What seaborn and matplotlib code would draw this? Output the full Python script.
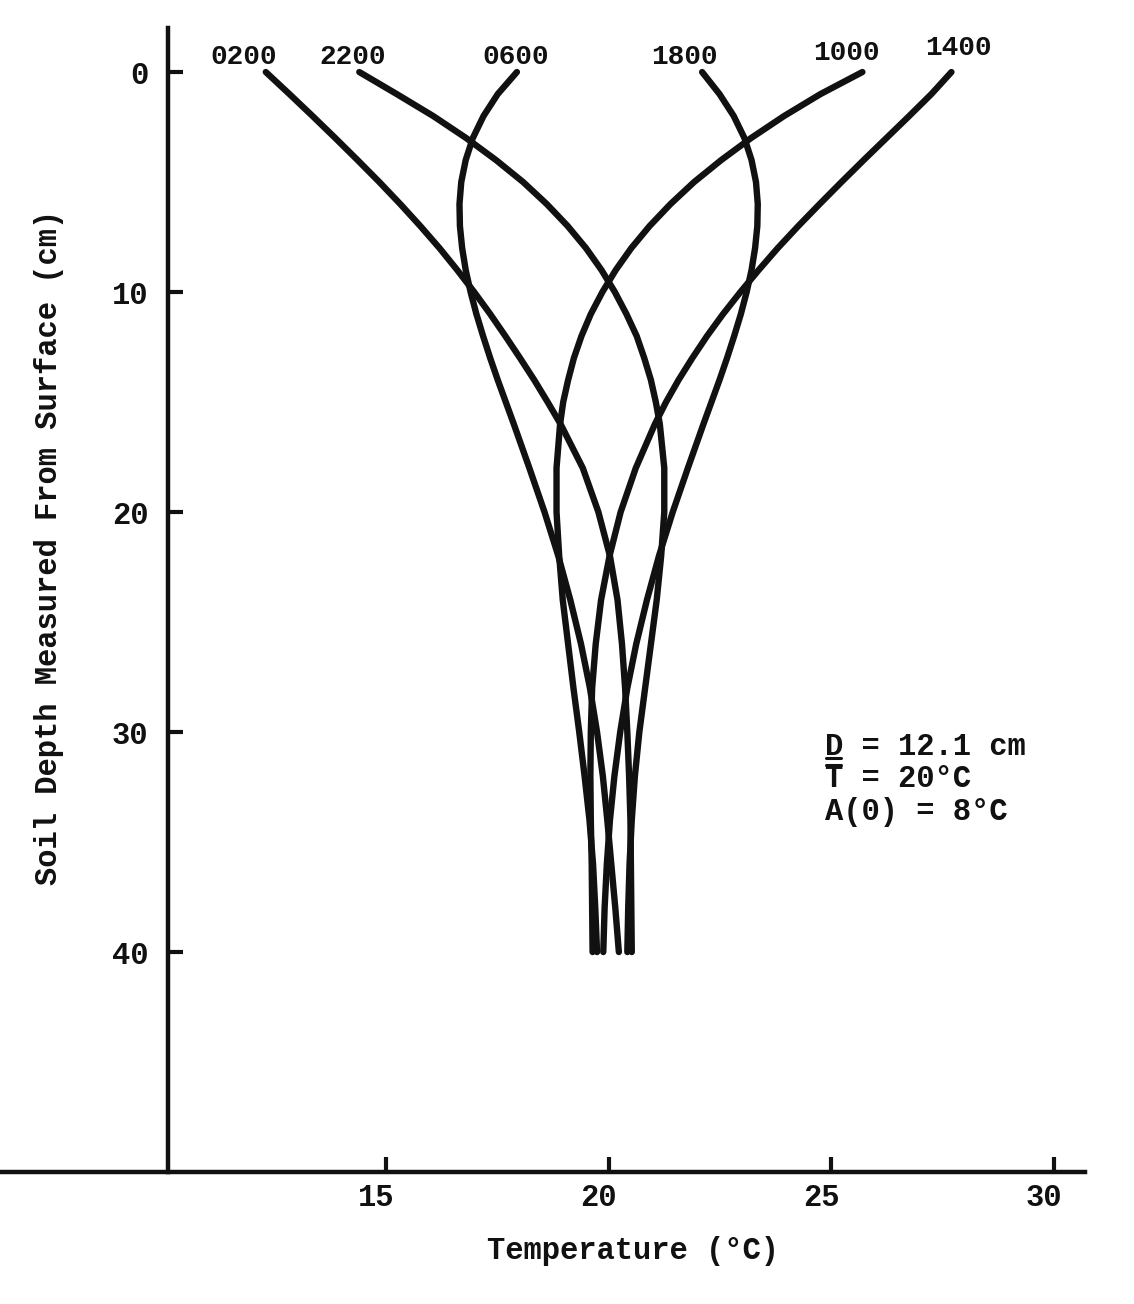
import pandas as pd
import matplotlib
matplotlib.use("Agg")
import matplotlib.pyplot as plt
import matplotlib.transforms as mtransforms
from matplotlib.lines import Line2D
import seaborn as sns

# depth below the surface (cm) and temperature (deg C)
depth = [0, 1, 2, 3, 4, 5, 6, 7, 8, 9, 10, 11, 12, 13, 14, 15, 16,
         18, 20, 22, 24, 26, 28, 30, 32, 34, 36, 38, 40]
times = ["0200", "2200", "0600", "1800", "1000", "1400"]
temp_0200 = [12.3, 12.83, 13.35, 13.86, 14.36, 14.85, 15.32, 15.77, 16.2, 16.6, 16.98,
             17.34, 17.68, 18.01, 18.33, 18.63, 18.92,
             19.42, 19.77, 20.03, 20.2, 20.3, 20.37, 20.42, 20.46, 20.49, 20.5, 20.51, 20.52]
temp_2200 = [14.4, 15.24, 16.06, 16.8, 17.47, 18.08, 18.61, 19.08, 19.49, 19.84, 20.14,
             20.4, 20.63, 20.8, 20.95, 21.06, 21.15,
             21.25, 21.25, 21.18, 21.08, 20.95, 20.82, 20.69, 20.59, 20.52, 20.47, 20.44, 20.42]
temp_0600 = [17.94, 17.51, 17.19, 16.95, 16.79, 16.69, 16.65, 16.66, 16.71, 16.79, 16.9,
             17.03, 17.18, 17.34, 17.51, 17.69, 17.87,
             18.22, 18.56, 18.87, 19.14, 19.38, 19.58, 19.74, 19.87, 19.97, 20.06, 20.15, 20.23]
temp_1800 = [22.1, 22.49, 22.81, 23.05, 23.21, 23.31, 23.35, 23.34, 23.29, 23.21, 23.1,
             22.97, 22.82, 22.66, 22.49, 22.31, 22.13,
             21.78, 21.44, 21.13, 20.86, 20.62, 20.42, 20.26, 20.13, 20.03, 19.96, 19.91, 19.88]
temp_1000 = [25.7, 24.76, 23.94, 23.2, 22.53, 21.92, 21.39, 20.92, 20.51, 20.16, 19.86,
             19.6, 19.39, 19.22, 19.09, 18.98, 18.91,
             18.83, 18.83, 18.89, 18.97, 19.09, 19.21, 19.34, 19.46, 19.57, 19.65, 19.7, 19.74]
temp_1400 = [27.7, 27.25, 26.75, 26.24, 25.73, 25.23, 24.74, 24.26, 23.8, 23.37, 22.96,
             22.57, 22.21, 21.88, 21.57, 21.29, 21.04,
             20.61, 20.27, 20.02, 19.83, 19.71, 19.63, 19.6, 19.59, 19.6, 19.62, 19.63, 19.64]

x_ticks = [15, 20, 25, 30]
y_ticks = [0, 10, 20, 30, 40]
params = ["D = 12.1 cm", "T = 20°C", "A(0) = 8°C"]

profiles = {"0200": temp_0200, "2200": temp_2200, "0600": temp_0600,
            "1800": temp_1800, "1000": temp_1000, "1400": temp_1400}
df = pd.concat([pd.DataFrame({"time": t, "depth": depth, "temp": profiles[t]}) for t in times],
               ignore_index=True)

sns.set_theme(style="white")
plt.rcParams["font.family"] = ["Liberation Mono", "DejaVu Sans Mono"]
plt.rcParams["font.weight"] = "bold"
ink = "#111111"

fig = plt.figure(figsize=(11.34, 13.04), dpi=100)
ax = fig.add_axes([0.0, 0.1012, 0.9568, 0.8773])

sns.lineplot(data=df, x="temp", y="depth", hue="time", palette=[ink] * len(times),
             orient="y", estimator=None, legend=False, linewidth=4.6, ax=ax)

ax.set_xlim(6.33, 30.7)
ax.set_ylim(50, -2)
ax.spines["left"].set_position(("data", 10.1))
for side in ["top", "right"]:
    ax.spines[side].set_visible(False)
for side in ["left", "bottom"]:
    ax.spines[side].set_color(ink)
    ax.spines[side].set_linewidth(3.2)

ax.set_xticks(x_ticks)
ax.set_yticks(y_ticks)
ax.tick_params(axis="both", direction="in", length=11, width=3, color=ink,
               labelsize=22, labelcolor=ink, bottom=True, left=True)
ax.tick_params(axis="y", pad=14)
ax.tick_params(axis="x", pad=8)
shift = mtransforms.ScaledTranslation(-0.1, 0, fig.dpi_scale_trans)
for lab in ax.get_xticklabels():
    lab.set_transform(lab.get_transform() + shift)
    lab.set_fontweight("bold")
for lab in ax.get_yticklabels():
    lab.set_fontweight("bold")

ax.set_xlabel("Temperature (°C)", fontsize=22, fontweight="bold", color=ink)
ax.xaxis.set_label_coords(0.583, -0.056)
ax.set_ylabel("Soil Depth Measured From Surface (cm)", fontsize=22, fontweight="bold", color=ink)
ax.yaxis.set_label_coords(0.059, 0.546)

# hour labels at the top of each profile
label_pos = {"0200": (11.8, -0.7), "2200": (14.25, -0.7), "0600": (17.92, -0.7),
             "1800": (21.7, -0.7), "1000": (25.35, -0.85), "1400": (27.85, -1.1)}
for t in times:
    x, y = label_pos[t]
    ax.text(x, y, t, fontsize=20, fontweight="bold", color=ink, ha="center", va="center")

# parameter block
px, rows = 24.86, [31.05, 32.5, 34.0]
texts = [ax.text(px, y, s, fontsize=22, fontweight="bold", color=ink, ha="left", va="baseline")
         for s, y in zip(params, rows)]

# underline under D and bar over T, drawn as short strokes
fig.canvas.draw()
renderer = fig.canvas.get_renderer()
_, _, desc = renderer.get_text_width_height_descent("lp", texts[0].get_fontproperties(), ismath=False)
for t, s, where in [(texts[0], params[0], "under"), (texts[1], params[1], "over")]:
    bb = t.get_window_extent(renderer)
    cw = bb.width / len(s)
    base = bb.y0 + desc
    yy = base - 3 if where == "under" else base + 22
    fig.add_artist(Line2D([bb.x0 + 1, bb.x0 + cw - 2], [yy, yy], color=ink, linewidth=2.2,
                          transform=mtransforms.IdentityTransform()))

fig.savefig("out.png", dpi=100, facecolor="white")
